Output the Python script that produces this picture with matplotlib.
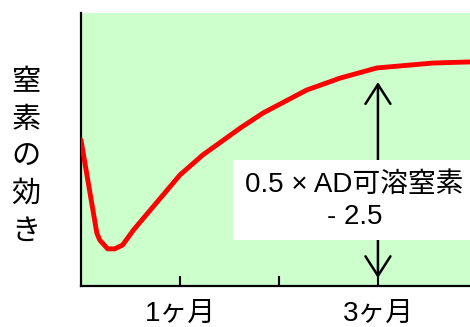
import matplotlib
matplotlib.use("Agg")
import matplotlib.pyplot as plt
from matplotlib.patches import Rectangle

plt.rcParams['font.family'] = ['Liberation Sans', 'Noto Sans CJK JP', 'DejaVu Sans']

# ----- data ----------------------------------------------------------
months = [0.0, 0.16, 0.19, 0.27, 0.34, 0.42, 0.53, 0.70, 1.0, 1.23,
          1.61, 1.84, 2.28, 2.62, 2.99, 3.56, 3.93]
effect = [5.35, 1.94, 1.68, 1.36, 1.36, 1.50, 2.05, 2.78, 4.07, 4.80,
          5.79, 6.34, 7.18, 7.62, 7.99, 8.17, 8.21]

tick_pos = [1, 2, 3]
tick_labels = ["1ヶ月", "", "3ヶ月"]

arrow_x = 3.0
arrow_top = 7.47
arrow_bottom = 0.29

ylabel = "窒\n素\nの\n効\nき"
note = "0.5 × AD可溶窒素\n- 2.5"

# ----- plot ----------------------------------------------------------
fig = plt.figure(figsize=(4.7, 3.27), dpi=100)
ax = fig.add_axes([0.1723, 0.1254, 0.8277, 0.8346])
ax.set_facecolor("#ccffcc")

ax.plot(months, effect, color="#ff0000", lw=3.5, solid_capstyle="round", zorder=3)

ax.set_xlim(0, 3.93)
ax.set_ylim(0, 10)

# double arrow at 3 months
ax.annotate("", xy=(arrow_x, arrow_top), xytext=(arrow_x, arrow_bottom),
            arrowprops=dict(arrowstyle="<->,head_length=0.7,head_width=0.45",
                            color="black", lw=1.8, mutation_scale=20,
                            shrinkA=0, shrinkB=0), zorder=2)

# white label box
ax.add_patch(Rectangle((0.392, 0.168), 0.62, 0.292, transform=ax.transAxes,
                       facecolor="white", edgecolor="none", zorder=4,
                       clip_on=False))
ax.text(0.703, 0.313, note, transform=ax.transAxes, ha="center", va="center",
        fontsize=20, linespacing=1.3, zorder=5)

for side in ("top", "right"):
    ax.spines[side].set_visible(False)
for side in ("left", "bottom"):
    ax.spines[side].set_linewidth(1.6)

ax.set_yticks([])
ax.set_xticks(tick_pos)
ax.set_xticklabels(tick_labels, fontsize=20)
ax.tick_params(axis="x", direction="in", length=7, width=1.5, pad=11)

fig.text(0.055, 0.52, ylabel, ha="center", va="center", fontsize=21,
         linespacing=1.42)

fig.savefig("out.png", dpi=100)
